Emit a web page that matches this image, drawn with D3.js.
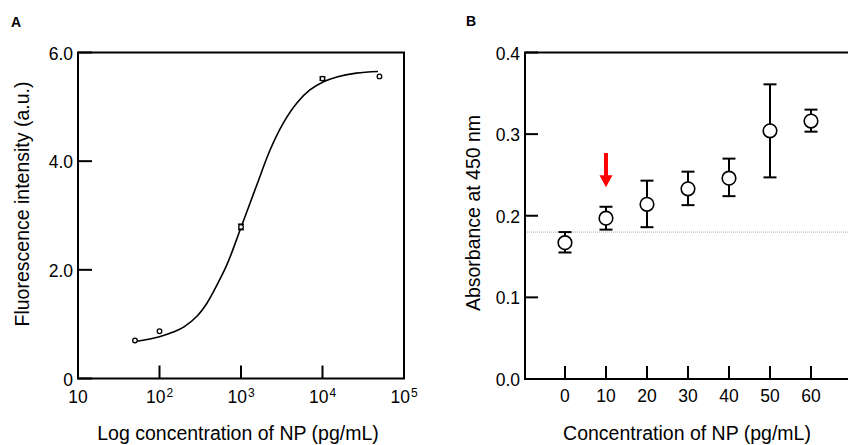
<!DOCTYPE html>
<html>
<head>
<meta charset="utf-8">
<script src="https://cdn.jsdelivr.net/npm/d3@7"></script>
<style>
  body { margin: 0; background: #fff; }
  svg { display: block; font-family: "Liberation Sans", Arial, sans-serif; }
</style>
</head>
<body>
<svg id="chart" width="848" height="445"></svg>
<script>
// panel A: dose response, measured points
const aConc = [50, 100, 1000, 10000, 50000];
const aFluor = [0.70, 0.87, 2.79, 5.52, 5.56];
const aErr = [0, 0, 0.05, 0.03, 0];
// panel A: fitted curve
const fitConc = [50, 100, 150, 200, 290, 380, 460, 670, 1000, 1300, 1570, 2280, 3300, 4850, 7000, 10300, 15000, 26000, 48000];
const fitVal = [0.68, 0.77, 0.86, 0.95, 1.15, 1.38, 1.60, 2.09, 2.78, 3.24, 3.57, 4.21, 4.70, 5.07, 5.31, 5.46, 5.55, 5.62, 5.65];
const aYTicks = [0, 2, 4, 6];
const aXTicks = [10, 100, 1000, 10000, 100000];

// panel B: absorbance vs concentration
const bConc = [0, 10, 20, 30, 40, 50, 60];
const bMean = [0.167, 0.197, 0.214, 0.233, 0.246, 0.304, 0.316];
const bLow = [0.155, 0.183, 0.186, 0.213, 0.224, 0.247, 0.303];
const bHigh = [0.180, 0.211, 0.243, 0.254, 0.270, 0.361, 0.330];
const bYTicks = [0, 0.1, 0.2, 0.3, 0.4];
const cutoff = 0.18;
const arrowConc = 10;
const arrowFrom = 0.277, arrowTo = 0.235;

let svg = d3.select("#chart");
let tickFont = "17.5px";
let titleFont = "19.5px";

// ---------- panel A ----------
let xA = d3.scaleLog().domain([10, 100000]).range([78, 404]);
let yA = d3.scaleLinear().domain([0, 6]).range([378.5, 52.5]);

let gA = svg.append("g");

gA.append("text")
    .attr("x", 11).attr("y", 27)
    .text("A")
    .style("font-size", "14px")
    .style("font-weight", "bold");

gA.append("rect")
    .attr("x", xA.range()[0]).attr("y", yA.range()[1])
    .attr("width", xA.range()[1] - xA.range()[0])
    .attr("height", yA.range()[0] - yA.range()[1])
    .style("fill", "none")
    .style("stroke", "#000")
    .style("stroke-width", 2);

// y ticks (inward)
aYTicks.forEach(function(t) {
    gA.append("line")
        .attr("x1", xA.range()[0]).attr("x2", xA.range()[0] + 14)
        .attr("y1", yA(t)).attr("y2", yA(t))
        .style("stroke", "#000").style("stroke-width", 2);
    gA.append("text")
        .attr("x", xA.range()[0] - 5).attr("y", yA(t) + 7)
        .attr("text-anchor", "end")
        .text(t == 0 ? "0" : t.toFixed(1))
        .style("font-size", tickFont);
});

// x ticks (inward), labels with superscripts
aXTicks.forEach(function(t, i) {
    if (i > 0 && i < aXTicks.length - 1) {
        gA.append("line")
            .attr("x1", xA(t)).attr("x2", xA(t))
            .attr("y1", yA.range()[0]).attr("y2", yA.range()[0] - 13)
            .style("stroke", "#000").style("stroke-width", 2);
    }
    let exp = Math.round(Math.log10(t));
    let txt = gA.append("text")
        .attr("x", xA(t)).attr("y", 403)
        .attr("text-anchor", "middle")
        .style("font-size", tickFont);
    if (exp == 1) {
        txt.text("10");
    } else {
        txt.append("tspan").text("10");
        txt.append("tspan").attr("dx", 1).attr("dy", -6).style("font-size", "12px").text(exp);
    }
});

// fitted curve
let fitLine = d3.line()
    .x(function(d) { return xA(d[0]); })
    .y(function(d) { return yA(d[1]); })
    .curve(d3.curveCatmullRom.alpha(0.5));

gA.append("path")
    .attr("d", fitLine(d3.zip(fitConc, fitVal)))
    .style("fill", "none")
    .style("stroke", "#000")
    .style("stroke-width", 1.6);

// error bars + points
aConc.forEach(function(c, i) {
    if (aErr[i] > 0) {
        let x = xA(c);
        [aFluor[i] - aErr[i], aFluor[i] + aErr[i]].forEach(function(v) {
            gA.append("line")
                .attr("x1", x - 3).attr("x2", x + 3)
                .attr("y1", yA(v)).attr("y2", yA(v))
                .style("stroke", "#000").style("stroke-width", 1.5);
        });
        gA.append("line")
            .attr("x1", x).attr("x2", x)
            .attr("y1", yA(aFluor[i] - aErr[i])).attr("y2", yA(aFluor[i] + aErr[i]))
            .style("stroke", "#000").style("stroke-width", 1.5);
    }
    gA.append("circle")
        .attr("cx", xA(c)).attr("cy", yA(aFluor[i]))
        .attr("r", 2.3)
        .style("fill", "#fff")
        .style("stroke", "#000")
        .style("stroke-width", 1.3);
});

gA.append("text")
    .attr("transform", "translate(29,204)rotate(-90)")
    .attr("text-anchor", "middle")
    .text("Fluorescence intensity (a.u.)")
    .style("font-size", titleFont);

gA.append("text")
    .attr("x", 238).attr("y", 440)
    .attr("text-anchor", "middle")
    .text("Log concentration of NP (pg/mL)")
    .style("font-size", titleFont);

// ---------- panel B ----------
let xB = d3.scaleLinear().domain([-9.75, 70]).range([525, 852]);
let yB = d3.scaleLinear().domain([0, 0.4]).range([379, 52.5]);

let gB = svg.append("g");

gB.append("text")
    .attr("x", 466).attr("y", 26)
    .text("B")
    .style("font-size", "14px")
    .style("font-weight", "bold");

// cutoff line
gB.append("line")
    .attr("x1", xB.range()[0]).attr("x2", 848)
    .attr("y1", yB(cutoff)).attr("y2", yB(cutoff))
    .style("stroke", "#aaa")
    .style("stroke-width", 1)
    .style("stroke-dasharray", "1,1");

// frame: left, top, bottom
gB.append("path")
    .attr("d", "M" + xB.range()[1] + "," + yB.range()[1] +
        "H" + xB.range()[0] + "V" + yB.range()[0] + "H" + xB.range()[1])
    .style("fill", "none")
    .style("stroke", "#000")
    .style("stroke-width", 2);

bYTicks.forEach(function(t) {
    gB.append("line")
        .attr("x1", xB.range()[0]).attr("x2", xB.range()[0] + 13)
        .attr("y1", yB(t)).attr("y2", yB(t))
        .style("stroke", "#000").style("stroke-width", 2);
    gB.append("text")
        .attr("x", xB.range()[0] - 5).attr("y", yB(t) + 7)
        .attr("text-anchor", "end")
        .text(t.toFixed(1))
        .style("font-size", tickFont);
});

bConc.forEach(function(c) {
    gB.append("line")
        .attr("x1", xB(c)).attr("x2", xB(c))
        .attr("y1", yB.range()[0]).attr("y2", yB.range()[0] - 13)
        .style("stroke", "#000").style("stroke-width", 2);
    gB.append("text")
        .attr("x", xB(c)).attr("y", 402)
        .attr("text-anchor", "middle")
        .text(c)
        .style("font-size", tickFont);
});

// error bars
bConc.forEach(function(c, i) {
    let x = xB(c);
    gB.append("line")
        .attr("x1", x).attr("x2", x)
        .attr("y1", yB(bLow[i])).attr("y2", yB(bHigh[i]))
        .style("stroke", "#000").style("stroke-width", 2);
    [bLow[i], bHigh[i]].forEach(function(v) {
        gB.append("line")
            .attr("x1", x - 6.5).attr("x2", x + 6.5)
            .attr("y1", yB(v)).attr("y2", yB(v))
            .style("stroke", "#000").style("stroke-width", 2);
    });
    gB.append("circle")
        .attr("cx", x).attr("cy", yB(bMean[i]))
        .attr("r", 6.8)
        .style("fill", "#fff")
        .style("stroke", "#000")
        .style("stroke-width", 1.6);
});

// red arrow
let ax = xB(arrowConc), ay0 = yB(arrowFrom), ay1 = yB(arrowTo);
gB.append("path")
    .attr("d", "M" + (ax - 2) + "," + ay0 + "H" + (ax + 2) + "V" + (ay1 - 12) +
        "H" + (ax + 6.5) + "L" + ax + "," + ay1 + "L" + (ax - 6.5) + "," + (ay1 - 12) +
        "H" + (ax - 2) + "Z")
    .style("fill", "#ff0000");

gB.append("text")
    .attr("transform", "translate(480,213)rotate(-90)")
    .attr("text-anchor", "middle")
    .text("Absorbance at 450 nm")
    .style("font-size", titleFont);

gB.append("text")
    .attr("x", 687).attr("y", 440)
    .attr("text-anchor", "middle")
    .text("Concentration of NP (pg/mL)")
    .style("font-size", titleFont);
</script>
</body>
</html>
